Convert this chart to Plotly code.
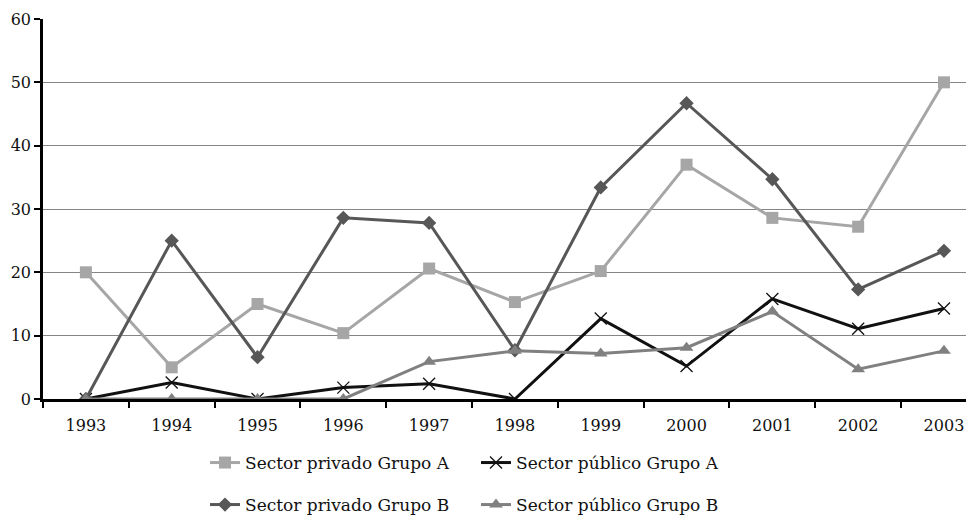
import plotly.graph_objects as go

years = ["1993", "1994", "1995", "1996", "1997", "1998", "1999", "2000", "2001", "2002", "2003"]
privado_a = [20.0, 5.0, 15.0, 10.4, 20.6, 15.3, 20.2, 37.0, 28.6, 27.2, 50.0]
publico_a = [0.0, 2.6, 0.0, 1.8, 2.4, 0.0, 12.7, 5.2, 15.8, 11.1, 14.3]
privado_b = [0.0, 25.0, 6.6, 28.6, 27.8, 7.7, 33.4, 46.7, 34.7, 17.3, 23.4]
publico_b = [0.0, 0.0, 0.0, 0.0, 5.9, 7.6, 7.2, 8.1, 13.8, 4.7, 7.6]

FONT = "DejaVu Serif"
# page body has an 8px default margin; figure is sized to fill the rest of the window
OFF = 8
W, H = 974 - OFF, 526 - OFF

fig = go.Figure()
fig.add_trace(go.Scatter(x=years, y=privado_a, name="Sector privado Grupo A", mode="lines+markers",
                         line=dict(color="#a6a6a6", width=3),
                         marker=dict(symbol="square", size=12, color="#a6a6a6"), legend="legend"))
fig.add_trace(go.Scatter(x=years, y=publico_a, name="Sector público Grupo A", mode="lines+markers",
                         line=dict(color="#111111", width=3),
                         marker=dict(symbol="x-thin", size=12, color="#111111",
                                     line=dict(color="#111111", width=1.3)), legend="legend"))
fig.add_trace(go.Scatter(x=years, y=privado_b, name="Sector privado Grupo B", mode="lines+markers",
                         line=dict(color="#575757", width=3),
                         marker=dict(symbol="diamond", size=11, color="#575757"), legend="legend2"))
fig.add_trace(go.Scatter(x=years, y=publico_b, name="Sector público Grupo B", mode="lines+markers",
                         line=dict(color="#808080", width=3),
                         marker=dict(symbol="triangle-up", size=12, color="#808080"), legend="legend2"))

legend_common = dict(orientation="h", xanchor="left", yanchor="middle", entrywidth=226,
                     entrywidthmode="pixels", font=dict(family=FONT, size=17, color="#111"),
                     bgcolor="rgba(0,0,0,0)", itemwidth=30, tracegroupgap=0,
                     xref="container", yref="container")

fig.update_layout(
    width=W, height=H,
    margin=dict(l=43 - OFF, r=0, t=19 - OFF, b=H - (399.5 - OFF), autoexpand=False),
    paper_bgcolor="white", plot_bgcolor="white",
    font=dict(family=FONT, size=16, color="#111"),
    legend=dict(x=(205 - OFF) / W, y=1 - (463 - OFF) / H, **legend_common),
    legend2=dict(x=(205 - OFF) / W, y=1 - (505 - OFF) / H, **legend_common),
    xaxis=dict(type="category", range=[-0.5, 10.35], showline=True, linecolor="#000", linewidth=2.5,
               ticks="outside", ticklen=6, tickcolor="#000", tickwidth=1.5, tickson="boundaries",
               showgrid=False, zeroline=False, automargin=False, ticklabelstandoff=10,
               tickfont=dict(family=FONT, size=16, color="#111")),
    yaxis=dict(range=[0, 60], dtick=10, showline=True, linecolor="#000", linewidth=2.5,
               ticks="outside", ticklen=6, tickcolor="#000", tickwidth=1.5,
               showgrid=True, gridcolor="#858585", gridwidth=1.2, zeroline=False, automargin=False,
               tickfont=dict(family=FONT, size=16, color="#111")),
)

fig.write_html("out.html")
